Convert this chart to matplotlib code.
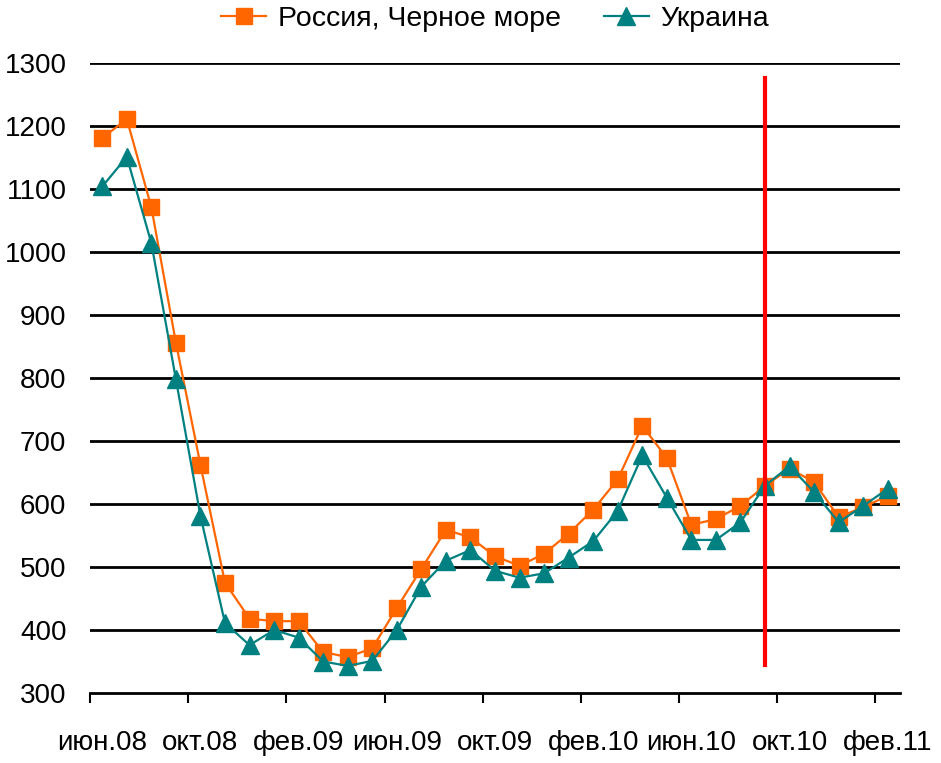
import numpy as np
import matplotlib
matplotlib.use('Agg')
import matplotlib.pyplot as plt

plt.rcParams['font.family'] = ['Liberation Sans', 'DejaVu Sans']

# Данные (по месяцам, июн.08 - фев.11)
months = ['июн.08', 'июл.08', 'авг.08', 'сен.08', 'окт.08', 'ноя.08', 'дек.08', 'янв.09',
          'фев.09', 'мар.09', 'апр.09', 'май.09', 'июн.09', 'июл.09', 'авг.09', 'сен.09',
          'окт.09', 'ноя.09', 'дек.09', 'янв.10', 'фев.10', 'мар.10', 'апр.10', 'май.10',
          'июн.10', 'июл.10', 'авг.10', 'сен.10', 'окт.10', 'ноя.10', 'дек.10', 'янв.11',
          'фев.11']
russia = [1181, 1211, 1071, 856, 662, 475, 418, 414, 414, 365, 357, 371, 435,
          497, 559, 547, 517, 502, 521, 553, 591, 639, 724, 673, 567, 576, 597,
          629, 656, 635, 579, 595, 613]
ukraine = [1104, 1151, 1014, 798, 581, 411, 376, 400, 388, 350, 343, 351, 400,
           469, 510, 527, 494, 483, 490, 515, 541, 589, 677, 610, 543, 543, 571,
           629, 660, 619, 571, 597, 624]
label_step = 4
marker_month = 'сен.10'   # красная вертикальная линия

x = np.arange(len(months))

fig = plt.figure(figsize=(9.41, 7.63), dpi=100)
ax = fig.add_axes([90 / 941, 1 - 693 / 763, 810 / 941, 630 / 763])

# сетка
for v in range(400, 1301, 100):
    ax.axhline(v, color='black', lw=2, zorder=1)

ax.plot(x, russia, color='#FF6600', lw=1.6, marker='s', markersize=12,
        markeredgecolor='#FF6600', label='Россия, Черное море', zorder=3)
ax.plot(x, ukraine, color='#008080', lw=1.6, marker='^', markersize=13,
        markeredgecolor='#008080', label='Украина', zorder=4)

xi = months.index(marker_month)
ax.plot([xi, xi], [344, 1276], color='#FF0000', lw=3, zorder=5)

ax.set_xlim(-0.5, len(months) - 0.5)
ax.set_ylim(300, 1300)
ax.set_yticks(range(300, 1301, 100))
ax.tick_params(axis='y', length=0, labelsize=20, pad=17)

# деления на границах категорий, подписи по центру
ax.set_xticks(np.arange(-0.5, len(months) - 1, label_step))
ax.set_xticklabels([])
ax.set_xticks(x[::label_step], minor=True)
ax.set_xticklabels(months[::label_step], minor=True)
ax.tick_params(axis='x', which='major', length=7, width=1.5, direction='out', color='black')
ax.tick_params(axis='x', which='minor', length=0, labelsize=20, pad=27)

for s in ['top', 'right', 'left']:
    ax.spines[s].set_visible(False)
ax.spines['bottom'].set_linewidth(2)

ax.legend(loc='center', bbox_to_anchor=(0.5, 1.07), ncol=2, frameon=False,
          fontsize=20.5, handlelength=1.6, columnspacing=1.5, handletextpad=0.4)

fig.savefig('out.png', dpi=100)
